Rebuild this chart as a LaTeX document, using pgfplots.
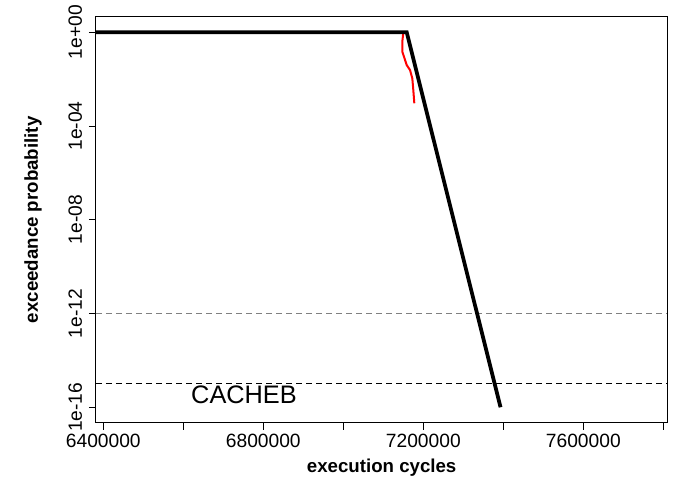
\documentclass[border=0pt]{standalone}
\usepackage{fontspec}
\setmainfont{Liberation Sans}
\usepackage{pgfplots}
\pgfplotsset{compat=1.18}

\begin{document}
\begin{tikzpicture}
\path[use as bounding box] (-72pt,-46.5pt) rectangle (444pt,317.2pt);
\begin{axis}[
    at={(0,0)}, anchor=south west,
    scale only axis,
    width=428.5pt, height=304.7pt,
    xmin=6381750, xmax=7810000,
    ymode=log,
    ymin=2.14e-17, ymax=4.63,
    scaled x ticks=false,
    xtick={6400000,6600000,6800000,7000000,7200000,7400000,7600000,7800000},
    xticklabels={6400000,,6800000,,7200000,,7600000,},
    ytick={1,1e-4,1e-8,1e-12,1e-16},
    yticklabels={1e+00,1e-04,1e-08,1e-12,1e-16},
    yminorticks=false,
    xtick pos=bottom, ytick pos=left,
    tick align=outside,
    major tick length=5.25pt,
    tick style={black, line width=0.6pt},
    axis line style={black, line width=0.75pt},
    ticklabel style={font=\fontsize{14.4}{17}\selectfont},
    yticklabel style={rotate=90, anchor=south, inner sep=5pt},
    xticklabel style={inner sep=3pt},
    xlabel={execution cycles},
    ylabel={exceedance probability},
    xlabel style={at={(axis description cs:0.5,-0.111)}, anchor=center, font=\fontsize{14}{17}\selectfont\bfseries},
    ylabel style={at={(axis description cs:-0.110,0.5)}, anchor=center, font=\fontsize{14}{17}\selectfont\bfseries},
    clip=true,
]
% threshold lines
\addplot[gray, line width=0.75pt, dash pattern=on 4.5pt off 3pt] coordinates {(6381750,1e-12) (7810000,1e-12)};
\addplot[black, line width=0.75pt, dash pattern=on 4.5pt off 3pt] coordinates {(6381750,1e-15) (7810000,1e-15)};
% observed exceedance (red)
\addplot[red, line width=1.5pt] coordinates {
    (7150000,1) (7147500,0.398) (7147500,0.148) (7158500,0.0398)
    (7166750,0.0245) (7172500,0.0107) (7175000,0.00339) (7177500,0.000933)
};
% projected curve (black)
\addplot[black, line width=2.8pt] coordinates {
    (6381750,1) (7158500,1) (7393000,1e-16)
};
\node[font=\fontsize{19}{22}\selectfont] at (axis cs:6751750,3.4e-16) {CACHEB};
\end{axis}
\end{tikzpicture}
\end{document}
